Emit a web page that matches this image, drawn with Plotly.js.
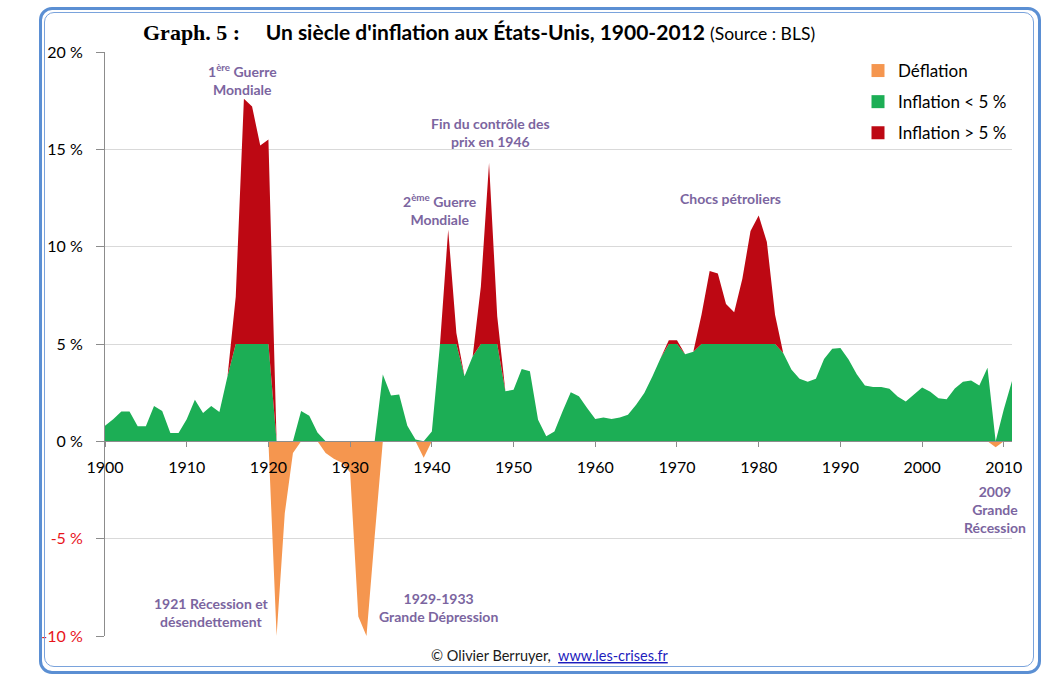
<!DOCTYPE html>
<html>
<head>
<meta charset="utf-8">
<script src="https://cdn.plot.ly/plotly-3.0.1.min.js"></script>
<style>
  html, body { margin: 0; padding: 0; background: #ffffff; }
  #wrap { position: relative; width: 1058px; height: 690px; overflow: hidden; }
  #chart { position: absolute; left: 0; top: 0; width: 1058px; height: 690px; }
  #frameOuter { position: absolute; left: 39px; top: 7px; width: 996px; height: 661px;
    border: 3px solid #5b8fd3; border-radius: 13px; pointer-events: none; z-index: 5; }
  #frameInner { position: absolute; left: 44px; top: 12px; width: 988px; height: 653px;
    border: 1px solid #7aa3dc; border-radius: 10px; pointer-events: none; z-index: 5; }
</style>
</head>
<body>
<div id="wrap">
  <div id="chart"></div>
  <div id="frameOuter"></div>
  <div id="frameInner"></div>
</div>
<script>
// ---- data ----
const years = [1900,1901,1902,1903,1904,1905,1906,1907,1908,1909,
  1910,1911,1912,1913,1914,1915,1916,1917,1918,1919,
  1920,1921,1922,1923,1924,1925,1926,1927,1928,1929,
  1930,1931,1932,1933,1934,1935,1936,1937,1938,1939,
  1940,1941,1942,1943,1944,1945,1946,1947,1948,1949,
  1950,1951,1952,1953,1954,1955,1956,1957,1958,1959,
  1960,1961,1962,1963,1964,1965,1966,1967,1968,1969,
  1970,1971,1972,1973,1974,1975,1976,1977,1978,1979,
  1980,1981,1982,1983,1984,1985,1986,1987,1988,1989,
  1990,1991,1992,1993,1994,1995,1996,1997,1998,1999,
  2000,2001,2002,2003,2004,2005,2006,2007,2008,2009,
  2010,2011];

const inflation = [0.80,1.14,1.53,1.53,0.77,0.77,1.82,1.56,0.43,0.43,
  1.14,2.13,1.45,1.82,1.51,3.35,7.43,17.6,17.2,15.2,
  15.5,-10.0,-3.7,-0.6,1.56,1.31,0.46,-0.6,-0.9,-1.1,
  -1.6,-9.0,-10.0,-4.9,3.43,2.36,2.41,0.80,0.10,-0.84,
  0.50,5.0,10.87,5.56,3.34,4.37,7.96,14.3,6.42,2.57,
  2.65,3.72,3.60,1.11,0.26,0.51,1.54,2.52,2.31,1.71,
  1.15,1.23,1.15,1.23,1.37,1.88,2.48,3.34,4.28,5.19,
  5.19,4.47,4.60,6.50,8.75,8.62,7.06,6.63,8.35,10.8,
  11.6,10.24,6.50,4.54,3.69,3.21,3.06,3.21,4.23,4.76,
  4.80,4.20,3.44,2.87,2.79,2.79,2.70,2.30,2.04,2.41,
  2.76,2.55,2.21,2.16,2.72,3.06,3.13,2.87,3.78,-0.30,
  1.65,3.10];

const seriesNames = ["Déflation", "Inflation < 5 %", "Inflation > 5 %"];
const threshold = 5;

const xTickVals = [1900,1910,1920,1930,1940,1950,1960,1970,1980,1990,2000,2010];
const xTickText = ["1900","1910","1920","1930","1940","1950","1960","1970","1980","1990","2000","2010"];
const yTickVals = [20,15,10,5,0,-5,-10];
const yTickText = ["20 %","15 %","10 %","5 %","0 %",
  '<span style="color:#e8141b">-5 %</span>','<span style="color:#e8141b">-10 %</span>'];

const titleMain = "Un siècle d'inflation aux États-Unis, 1900-2012";
const titlePrefix = "Graph. 5 :";
const titleSource = "(Source : BLS)";

// ---- derived series (split of the same values into three bands) ----
const deflationPart = inflation.map(v => Math.min(v, 0));
const lowPart = inflation.map(v => Math.max(0, Math.min(v, threshold)));
const highTop = inflation.map(v => Math.max(v, 0));

const colors = ["#f5964f", "#1cae55", "#bd0813"];
const annColor = "#7b65a0";
const baseFont = "Lato, 'Open Sans', sans-serif";

const traces = [
  { x: years, y: deflationPart, name: seriesNames[0], type: "scatter", mode: "none",
    fill: "tozeroy", fillcolor: colors[0], line: {width: 0}, showlegend: false, hoverinfo: "skip" },
  { x: years, y: lowPart, name: seriesNames[1], type: "scatter", mode: "none",
    fill: "tozeroy", fillcolor: colors[1], line: {width: 0}, showlegend: false, hoverinfo: "skip" },
  { x: years, y: highTop, name: seriesNames[2], type: "scatter", mode: "none",
    fill: "tonexty", fillcolor: colors[2], line: {width: 0}, showlegend: false, hoverinfo: "skip" }
];
// legend entries (square keys like the reference)
seriesNames.forEach((n, i) => {
  traces.push({ x: [null], y: [null], name: n, type: "scatter", mode: "markers",
    marker: {symbol: "square", size: 13, color: colors[i]},
    legendgroup: "g" + i, hoverinfo: "skip" });
});

const annFont = {family: baseFont, size: 14, color: annColor, weight: "bold"};
function ann(x, y, text) {
  return {x: x, y: y, xref: "x", yref: "y", text: text, showarrow: false,
    font: annFont, align: "center", xanchor: "center", yanchor: "middle"};
}

const layout = {
  width: 1058, height: 690,
  paper_bgcolor: "#ffffff", plot_bgcolor: "rgba(0,0,0,0)",
  margin: {l: 105, r: 46, t: 52, b: 54},
  showlegend: true,
  title: {
    text: '<span style="font-family:\'Liberation Serif\', serif;font-size:22px">' + titlePrefix + '</span>&nbsp;&nbsp;&nbsp;&nbsp;&nbsp;' +
          titleMain + ' <span style="font-size:17.5px;font-weight:normal">' + titleSource + '</span>',
    font: {family: baseFont, size: 21, color: "#000000", weight: "bold"},
    x: 143/1058, xanchor: "left", xref: "container",
    y: 1 - 33/690, yanchor: "middle", yref: "container"
  },
  xaxis: {
    range: [1900, 2011], anchor: "free", position: 1/3,
    tickmode: "array", tickvals: xTickVals, ticktext: xTickText,
    ticks: "outside", ticklen: 5, tickcolor: "#8c8c8c", tickwidth: 1,
    showline: true, linecolor: "#8c8c8c", linewidth: 1,
    showgrid: false, zeroline: false, ticklabelstandoff: 6,
    tickfont: {family: baseFont, size: 16, color: "#000000"}
  },
  yaxis: {
    range: [-10, 20], domain: [0, 1],
    tickmode: "array", tickvals: yTickVals, ticktext: yTickText,
    ticks: "outside", ticklen: 8, tickcolor: "#8c8c8c",
    showline: true, linecolor: "#8c8c8c", linewidth: 1,
    showgrid: true, gridcolor: "#d9d9d9", gridwidth: 1, zeroline: false,
    ticklabelstandoff: 10,
    tickfont: {family: baseFont, size: 16, color: "#000000"}
  },
  legend: {
    x: (858 - 105) / 907, xanchor: "left", y: (636 - 53) / 584, yanchor: "top",
    bgcolor: "rgba(0,0,0,0)", borderwidth: 0, tracegroupgap: 6, itemwidth: 30,
    font: {family: baseFont, size: 17, color: "#000000"}
  },
  annotations: [
    ann(1916.8, 18.6, "1<sup>ère</sup> Guerre<br>Mondiale"),
    ann(1947.2, 15.85, "Fin du contrôle des<br>prix en 1946"),
    ann(1941.0, 11.9, "2<sup>ème</sup> Guerre<br>Mondiale"),
    ann(1976.5, 12.5, "Chocs pétroliers"),
    ann(1913.0, -8.8, "1921 Récession et<br>désendettement"),
    ann(1940.8, -8.55, "1929-1933<br>Grande Dépression"),
    ann(2008.9, -3.5, "2009<br>Grande<br>Récession"),
    {x: (549 - 105) / 907, y: (636 - 655) / 584, xref: "paper", yref: "paper", showarrow: false,
     xanchor: "center", yanchor: "middle",
     text: '© Olivier Berruyer,  <span style="color:#1d1dbd;text-decoration:underline">www.les-crises.fr</span>',
     font: {family: baseFont, size: 14.5, color: "#1a1a1a"}}
  ]
};

Plotly.newPlot("chart", traces, layout, {staticPlot: true, displayModeBar: false});
</script>
</body>
</html>
